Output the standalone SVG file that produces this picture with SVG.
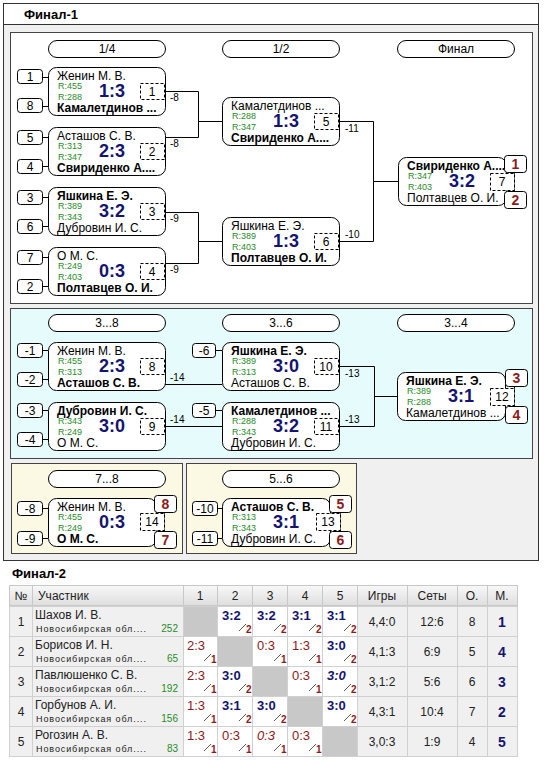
<svg xmlns="http://www.w3.org/2000/svg" width="552" height="760" viewBox="0 0 552 760">
<defs>
<style>
text{font-family:"Liberation Sans",Arial,sans-serif;}
.panel{fill:#f0f0f0;stroke:#333;stroke-width:1}
.wbox{fill:#fff;stroke:#444;stroke-width:1}
.pill{fill:#fff;stroke:#000;stroke-width:1}
.mb{fill:#fff;stroke:#000;stroke-width:1}
.sd{fill:#fff;stroke:#000;stroke-width:1}
.pl{fill:#fff;stroke:#000;stroke-width:1}
.dash{fill:#fff;stroke:#000;stroke-width:1;stroke-dasharray:3,2}
.ln{fill:none;stroke:#000;stroke-width:1}
.t12{font-size:12px;fill:#000}
.b12{font-size:12px;font-weight:bold;fill:#000}
.r{font-size:9px;fill:#2a8a2a}
.sc{font-size:18px;font-weight:bold;fill:#14146e;text-anchor:middle}
.c{text-anchor:middle}
.lab{font-size:10px;fill:#000}
.pn{font-size:14px;font-weight:bold;fill:#8b1a1a;text-anchor:middle}
.hd{font-size:13px;font-weight:bold;fill:#000}
.th{font-size:12px;fill:#222;text-anchor:middle}
.tn{font-size:12px;fill:#222}
.reg{font-size:9px;fill:#222;letter-spacing:0.9px}
.rt{font-size:10px;fill:#2a8a2a;text-anchor:end}
.win{font-size:13px;font-weight:bold;fill:#14146e}
.los{font-size:13px;fill:#8b1a1a}
.sub{font-size:10px;font-weight:bold;fill:#8b1a1a}
.sl{stroke:#333;stroke-width:0.8}
.st{font-size:12px;fill:#222;text-anchor:middle}
.mp{font-size:14px;font-weight:bold;fill:#14146e;text-anchor:middle}
.cell{fill:#f0f0f0;stroke:#d0d0d0}
.wc{fill:#fff;stroke:#d0d0d0}
.gc{fill:#c8c8c8;stroke:#d0d0d0}
</style>
<linearGradient id="hg" x1="0" y1="0" x2="0" y2="1">
<stop offset="0" stop-color="#f8f8f8"/>
<stop offset="1" stop-color="#dedede"/>
</linearGradient>
</defs>
<rect width="552" height="760" fill="#fff"/>

<!-- Final-1 panel -->
<g id="final1-panel">
<rect x="3.5" y="3.5" width="535" height="557" class="panel"/>
<rect x="4" y="4" width="534" height="20.5" fill="#fff"/>
<line x1="3.5" y1="24.5" x2="538.5" y2="24.5" stroke="#333"/>
<text x="24" y="19" class="hd">Финал-1</text>
<rect x="10.5" y="32.5" width="522" height="271" class="wbox"/>
<rect x="10.5" y="308.5" width="522" height="150" fill="#e6fbfb" stroke="#444"/>
<rect x="11.5" y="463.5" width="171" height="90" fill="#fbf9e4" stroke="#444"/>
<rect x="186.5" y="463.5" width="170" height="90" fill="#fbf9e4" stroke="#444"/>
</g>

<!-- Round pills -->
<g id="pills">
<rect x="48.5" y="40.5" width="117" height="17" rx="8.5" class="pill"/><text x="107" y="53" class="t12 c">1/4</text>
<rect x="222.5" y="40.5" width="117" height="17" rx="8.5" class="pill"/><text x="281" y="53" class="t12 c">1/2</text>
<rect x="397.5" y="40.5" width="117" height="17" rx="8.5" class="pill"/><text x="456" y="53" class="t12 c">Финал</text>
<rect x="48.5" y="314.5" width="117" height="17" rx="8.5" class="pill"/><text x="107" y="327" class="t12 c">3...8</text>
<rect x="222.5" y="314.5" width="117" height="17" rx="8.5" class="pill"/><text x="281" y="327" class="t12 c">3...6</text>
<rect x="397.5" y="314.5" width="117" height="17" rx="8.5" class="pill"/><text x="456" y="327" class="t12 c">3...4</text>
<rect x="48.5" y="470.5" width="117" height="17" rx="8.5" class="pill"/><text x="107" y="483" class="t12 c">7...8</text>
<rect x="222.5" y="470.5" width="117" height="17" rx="8.5" class="pill"/><text x="281" y="483" class="t12 c">5...6</text>
</g>

<!-- Connectors -->
<g id="connectors" class="ln">
<polyline points="165,91.5 198.5,91.5 198.5,137.5 165,137.5"/>
<line x1="198.5" y1="121.5" x2="222" y2="121.5"/>
<polyline points="165,212.5 198.5,212.5 198.5,263.5 165,263.5"/>
<line x1="198.5" y1="241.5" x2="222" y2="241.5"/>
<polyline points="339,121.5 373.5,121.5 373.5,241.5 339,241.5"/>
<line x1="373.5" y1="181.5" x2="398" y2="181.5"/>
<line x1="165" y1="384.5" x2="222" y2="384.5"/>
<line x1="165" y1="426.5" x2="222" y2="426.5"/>
<polyline points="339,366.5 374.5,366.5 374.5,426.5 339,426.5"/>
<line x1="374.5" y1="396.5" x2="397" y2="396.5"/>
<!-- seed ticks -->
<line x1="43" y1="77.5" x2="48" y2="77.5"/><line x1="43" y1="106.5" x2="48" y2="106.5"/>
<line x1="43" y1="137.5" x2="48" y2="137.5"/><line x1="43" y1="166.5" x2="48" y2="166.5"/>
<line x1="43" y1="197.5" x2="48" y2="197.5"/><line x1="43" y1="226.5" x2="48" y2="226.5"/>
<line x1="43" y1="257.5" x2="48" y2="257.5"/><line x1="43" y1="286.5" x2="48" y2="286.5"/>
<line x1="43" y1="350.5" x2="48" y2="350.5"/><line x1="43" y1="379.5" x2="48" y2="379.5"/>
<line x1="43" y1="410.5" x2="48" y2="410.5"/><line x1="43" y1="439.5" x2="48" y2="439.5"/>
<line x1="216" y1="350.5" x2="222" y2="350.5"/><line x1="216" y1="410.5" x2="222" y2="410.5"/>
<line x1="43" y1="508.5" x2="48" y2="508.5"/><line x1="43" y1="538.5" x2="48" y2="538.5"/>
<line x1="217" y1="508.5" x2="222" y2="508.5"/><line x1="217" y1="538.5" x2="222" y2="538.5"/>
<!-- place links -->
<line x1="514.5" y1="172" x2="514.5" y2="191"/>
<line x1="514.5" y1="387" x2="514.5" y2="406"/>
<line x1="164.5" y1="512" x2="164.5" y2="531"/>
<line x1="340.5" y1="512" x2="340.5" y2="531"/>
</g>
<g id="connector-labels">
<text x="170" y="101" class="lab">-8</text>
<text x="170" y="147" class="lab">-8</text>
<text x="170" y="222" class="lab">-9</text>
<text x="170" y="273" class="lab">-9</text>
<text x="345" y="132" class="lab">-11</text>
<text x="345" y="238" class="lab">-10</text>
<text x="170" y="381" class="lab">-14</text>
<text x="170" y="423" class="lab">-14</text>
<text x="345" y="377" class="lab">-13</text>
<text x="345" y="423" class="lab">-13</text>
</g>

<!-- Seed boxes -->
<g id="seeds">
<rect x="17.5" y="69.5" width="25" height="14" rx="3" class="sd"/><text x="30" y="81" class="t12 c">1</text>
<rect x="17.5" y="98.5" width="25" height="14" rx="3" class="sd"/><text x="30" y="110" class="t12 c">8</text>
<rect x="17.5" y="130.5" width="25" height="14" rx="3" class="sd"/><text x="30" y="142" class="t12 c">5</text>
<rect x="17.5" y="159.5" width="25" height="14" rx="3" class="sd"/><text x="30" y="171" class="t12 c">4</text>
<rect x="17.5" y="190.5" width="25" height="14" rx="3" class="sd"/><text x="30" y="202" class="t12 c">3</text>
<rect x="17.5" y="219.5" width="25" height="14" rx="3" class="sd"/><text x="30" y="231" class="t12 c">6</text>
<rect x="17.5" y="250.5" width="25" height="14" rx="3" class="sd"/><text x="30" y="262" class="t12 c">7</text>
<rect x="17.5" y="279.5" width="25" height="14" rx="3" class="sd"/><text x="30" y="291" class="t12 c">2</text>
<rect x="17.5" y="343.5" width="25" height="14" rx="3" class="sd"/><text x="30" y="355" class="t12 c">-1</text>
<rect x="17.5" y="372.5" width="25" height="14" rx="3" class="sd"/><text x="30" y="384" class="t12 c">-2</text>
<rect x="17.5" y="403.5" width="25" height="14" rx="3" class="sd"/><text x="30" y="415" class="t12 c">-3</text>
<rect x="17.5" y="432.5" width="25" height="14" rx="3" class="sd"/><text x="30" y="444" class="t12 c">-4</text>
<rect x="192.5" y="343.5" width="23" height="14" rx="3" class="sd"/><text x="204" y="355" class="t12 c">-6</text>
<rect x="192.5" y="403.5" width="23" height="14" rx="3" class="sd"/><text x="204" y="415" class="t12 c">-5</text>
<rect x="17.5" y="501.5" width="25" height="14" rx="3" class="sd"/><text x="30" y="513" class="t12 c">-8</text>
<rect x="17.5" y="531.5" width="25" height="14" rx="3" class="sd"/><text x="30" y="543" class="t12 c">-9</text>
<rect x="192.5" y="501.5" width="25" height="14" rx="3" class="sd"/><text x="205" y="513" class="t12 c">-10</text>
<rect x="192.5" y="531.5" width="25" height="14" rx="3" class="sd"/><text x="205" y="543" class="t12 c">-11</text>
</g>

<!-- Matches -->
<g id="m1">
<rect x="48.5" y="67.5" width="117" height="48" rx="8" class="mb"/>
<text x="57" y="80" class="t12">Женин М. В.</text><text x="58" y="89" class="r">R:455</text>
<text x="112" y="97" class="sc">1:3</text><text x="58" y="100" class="r">R:288</text>
<text x="57" y="112" class="b12">Камалетдинов ...</text>
<rect x="140.5" y="83.5" width="24" height="16" class="dash"/><text x="152" y="96" class="t12 c">1</text>
</g>
<g id="m2">
<rect x="48.5" y="127.5" width="117" height="48" rx="8" class="mb"/>
<text x="57" y="140" class="t12">Асташов С. В.</text><text x="58" y="149" class="r">R:313</text>
<text x="112" y="157" class="sc">2:3</text><text x="58" y="160" class="r">R:347</text>
<text x="57" y="172" class="b12">Свириденко А....</text>
<rect x="140.5" y="143.5" width="24" height="16" class="dash"/><text x="152" y="156" class="t12 c">2</text>
</g>
<g id="m3">
<rect x="48.5" y="187.5" width="117" height="48" rx="8" class="mb"/>
<text x="57" y="200" class="b12">Яшкина Е. Э.</text><text x="58" y="209" class="r">R:389</text>
<text x="112" y="217" class="sc">3:2</text><text x="58" y="220" class="r">R:343</text>
<text x="57" y="232" class="t12">Дубровин И. С.</text>
<rect x="140.5" y="203.5" width="24" height="16" class="dash"/><text x="152" y="216" class="t12 c">3</text>
</g>
<g id="m4">
<rect x="48.5" y="247.5" width="117" height="48" rx="8" class="mb"/>
<text x="57" y="260" class="t12">О М. С.</text><text x="58" y="269" class="r">R:249</text>
<text x="112" y="277" class="sc">0:3</text><text x="58" y="280" class="r">R:403</text>
<text x="57" y="292" class="b12">Полтавцев О. И.</text>
<rect x="140.5" y="263.5" width="24" height="16" class="dash"/><text x="152" y="276" class="t12 c">4</text>
</g>
<g id="m5">
<rect x="222.5" y="97.5" width="117" height="48" rx="8" class="mb"/>
<text x="231" y="110" class="t12">Камалетдинов ...</text><text x="232" y="119" class="r">R:288</text>
<text x="286" y="127" class="sc">1:3</text><text x="232" y="130" class="r">R:347</text>
<text x="231" y="142" class="b12">Свириденко А....</text>
<rect x="314.5" y="113.5" width="24" height="16" class="dash"/><text x="326" y="126" class="t12 c">5</text>
</g>
<g id="m6">
<rect x="222.5" y="217.5" width="117" height="48" rx="8" class="mb"/>
<text x="231" y="230" class="t12">Яшкина Е. Э.</text><text x="232" y="239" class="r">R:389</text>
<text x="286" y="247" class="sc">1:3</text><text x="232" y="250" class="r">R:403</text>
<text x="231" y="262" class="b12">Полтавцев О. И.</text>
<rect x="314.5" y="233.5" width="24" height="16" class="dash"/><text x="326" y="246" class="t12 c">6</text>
</g>
<g id="m7">
<rect x="398.5" y="157.5" width="108" height="48" rx="8" class="mb"/>
<text x="407" y="170" class="b12">Свириденко А....</text><text x="408" y="179" class="r">R:347</text>
<text x="462" y="187" class="sc">3:2</text><text x="408" y="190" class="r">R:403</text>
<text x="407" y="202" class="t12">Полтавцев О. И.</text>
<rect x="490.5" y="173.5" width="24" height="17" class="dash"/><text x="502" y="186" class="t12 c">7</text>
<rect x="504.5" y="155.5" width="22" height="17" rx="3" class="pl"/><text x="515.5" y="169" class="pn">1</text>
<rect x="504.5" y="191.5" width="22" height="17" rx="3" class="pl"/><text x="515.5" y="205" class="pn">2</text>
</g>
<g id="m8">
<rect x="48.5" y="342.5" width="117" height="48" rx="8" class="mb"/>
<text x="57" y="355" class="t12">Женин М. В.</text><text x="58" y="364" class="r">R:455</text>
<text x="112" y="372" class="sc">2:3</text><text x="58" y="375" class="r">R:313</text>
<text x="57" y="387" class="b12">Асташов С. В.</text>
<rect x="140.5" y="358.5" width="24" height="16" class="dash"/><text x="152" y="371" class="t12 c">8</text>
</g>
<g id="m9">
<rect x="48.5" y="402.5" width="117" height="48" rx="8" class="mb"/>
<text x="57" y="415" class="b12">Дубровин И. С.</text><text x="58" y="424" class="r">R:343</text>
<text x="112" y="432" class="sc">3:0</text><text x="58" y="435" class="r">R:249</text>
<text x="57" y="447" class="t12">О М. С.</text>
<rect x="140.5" y="418.5" width="24" height="16" class="dash"/><text x="152" y="431" class="t12 c">9</text>
</g>
<g id="m10">
<rect x="222.5" y="342.5" width="117" height="48" rx="8" class="mb"/>
<text x="231" y="355" class="b12">Яшкина Е. Э.</text><text x="232" y="364" class="r">R:389</text>
<text x="286" y="372" class="sc">3:0</text><text x="232" y="375" class="r">R:313</text>
<text x="231" y="387" class="t12">Асташов С. В.</text>
<rect x="314.5" y="358.5" width="24" height="16" class="dash"/><text x="326" y="371" class="t12 c">10</text>
</g>
<g id="m11">
<rect x="222.5" y="402.5" width="117" height="48" rx="8" class="mb"/>
<text x="231" y="415" class="b12">Камалетдинов ...</text><text x="232" y="424" class="r">R:288</text>
<text x="286" y="432" class="sc">3:2</text><text x="232" y="435" class="r">R:343</text>
<text x="231" y="447" class="t12">Дубровин И. С.</text>
<rect x="314.5" y="418.5" width="24" height="16" class="dash"/><text x="326" y="431" class="t12 c">11</text>
</g>
<g id="m12">
<rect x="397.5" y="372.5" width="108" height="48" rx="8" class="mb"/>
<text x="406" y="385" class="b12">Яшкина Е. Э.</text><text x="407" y="394" class="r">R:389</text>
<text x="461" y="402" class="sc">3:1</text><text x="407" y="405" class="r">R:288</text>
<text x="406" y="417" class="t12">Камалетдинов ...</text>
<rect x="490.5" y="388.5" width="24" height="17" class="dash"/><text x="502" y="401" class="t12 c">12</text>
<rect x="505.5" y="369.5" width="22" height="17" rx="3" class="pl"/><text x="516.5" y="383" class="pn">3</text>
<rect x="505.5" y="406.5" width="22" height="17" rx="3" class="pl"/><text x="516.5" y="420" class="pn">4</text>
</g>
<g id="m14">
<rect x="48.5" y="498.5" width="108" height="48" rx="8" class="mb"/>
<text x="57" y="511" class="t12">Женин М. В.</text><text x="58" y="520" class="r">R:455</text>
<text x="112" y="528" class="sc">0:3</text><text x="58" y="531" class="r">R:249</text>
<text x="57" y="543" class="b12">О М. С.</text>
<rect x="140.5" y="513.5" width="24" height="17" class="dash"/><text x="152" y="526" class="t12 c">14</text>
<rect x="154.5" y="495.5" width="22" height="17" rx="3" class="pl"/><text x="165.5" y="509" class="pn">8</text>
<rect x="154.5" y="531.5" width="22" height="17" rx="3" class="pl"/><text x="165.5" y="545" class="pn">7</text>
</g>
<g id="m13">
<rect x="222.5" y="498.5" width="108" height="48" rx="8" class="mb"/>
<text x="231" y="511" class="b12">Асташов С. В.</text><text x="232" y="520" class="r">R:313</text>
<text x="286" y="528" class="sc">3:1</text><text x="232" y="531" class="r">R:343</text>
<text x="231" y="543" class="t12">Дубровин И. С.</text>
<rect x="316.5" y="513.5" width="24" height="17" class="dash"/><text x="328" y="526" class="t12 c">13</text>
<rect x="329.5" y="495.5" width="22" height="17" rx="3" class="pl"/><text x="340.5" y="509" class="pn">5</text>
<rect x="329.5" y="531.5" width="22" height="17" rx="3" class="pl"/><text x="340.5" y="545" class="pn">6</text>
</g>

<!-- Final-2 table -->
<g id="final2">
<text x="12" y="578" class="hd">Финал-2</text>
<g id="table-header">
<rect x="9.5" y="585.5" width="508" height="20" fill="url(#hg)" stroke="#c8c8c8"/>
<g stroke="#c8c8c8">
<line x1="32.5" y1="586" x2="32.5" y2="605"/><line x1="183.5" y1="586" x2="183.5" y2="605"/>
<line x1="217.5" y1="586" x2="217.5" y2="605"/><line x1="252.5" y1="586" x2="252.5" y2="605"/>
<line x1="287.5" y1="586" x2="287.5" y2="605"/><line x1="322.5" y1="586" x2="322.5" y2="605"/>
<line x1="357.5" y1="586" x2="357.5" y2="605"/><line x1="407.5" y1="586" x2="407.5" y2="605"/>
<line x1="457.5" y1="586" x2="457.5" y2="605"/><line x1="487.5" y1="586" x2="487.5" y2="605"/>
</g>
<text x="21" y="600" class="th">№</text>
<text x="38" y="600" class="tn">Участник</text>
<text x="200" y="600" class="th">1</text><text x="235" y="600" class="th">2</text>
<text x="270" y="600" class="th">3</text><text x="305" y="600" class="th">4</text>
<text x="340" y="600" class="th">5</text><text x="382" y="600" class="th">Игры</text>
<text x="432" y="600" class="th">Сеты</text><text x="472" y="600" class="th">О.</text>
<text x="502" y="600" class="th">М.</text>
</g>

<g id="row1">
<rect x="9.5" y="606.5" width="23" height="30" class="cell"/><rect x="32.5" y="606.5" width="151" height="30" class="cell"/>
<rect x="183.5" y="606.5" width="34" height="30" class="gc"/><rect x="217.5" y="606.5" width="35" height="30" class="wc"/>
<rect x="252.5" y="606.5" width="35" height="30" class="wc"/><rect x="287.5" y="606.5" width="35" height="30" class="wc"/>
<rect x="322.5" y="606.5" width="35" height="30" class="wc"/><rect x="357.5" y="606.5" width="50" height="30" class="cell"/>
<rect x="407.5" y="606.5" width="50" height="30" class="cell"/><rect x="457.5" y="606.5" width="30" height="30" class="cell"/>
<rect x="487.5" y="606.5" width="30" height="30" class="cell"/>
<text x="21" y="626" class="th">1</text>
<text x="35" y="619" class="tn">Шахов И. В.</text>
<text x="36" y="632" class="reg">Новосибирская обл....</text><text x="178" y="632" class="rt">252</text>
<text x="222" y="620" class="win">3:2</text><line x1="239" y1="631" x2="246" y2="624" class="sl"/><text x="246" y="633" class="sub">2</text>
<text x="257" y="620" class="win">3:2</text><line x1="274" y1="631" x2="281" y2="624" class="sl"/><text x="281" y="633" class="sub">2</text>
<text x="292" y="620" class="win">3:1</text><line x1="309" y1="631" x2="316" y2="624" class="sl"/><text x="316" y="633" class="sub">2</text>
<text x="327" y="620" class="win">3:1</text><line x1="344" y1="631" x2="351" y2="624" class="sl"/><text x="351" y="633" class="sub">2</text>
<text x="382" y="626" class="st">4,4:0</text><text x="432" y="626" class="st">12:6</text>
<text x="472" y="626" class="st">8</text><text x="502" y="627" class="mp">1</text>
</g>
<g id="row2">
<rect x="9.5" y="636.5" width="23" height="30" class="cell"/><rect x="32.5" y="636.5" width="151" height="30" class="cell"/>
<rect x="183.5" y="636.5" width="34" height="30" class="wc"/><rect x="217.5" y="636.5" width="35" height="30" class="gc"/>
<rect x="252.5" y="636.5" width="35" height="30" class="wc"/><rect x="287.5" y="636.5" width="35" height="30" class="wc"/>
<rect x="322.5" y="636.5" width="35" height="30" class="wc"/><rect x="357.5" y="636.5" width="50" height="30" class="cell"/>
<rect x="407.5" y="636.5" width="50" height="30" class="cell"/><rect x="457.5" y="636.5" width="30" height="30" class="cell"/>
<rect x="487.5" y="636.5" width="30" height="30" class="cell"/>
<text x="21" y="656" class="th">2</text>
<text x="35" y="649" class="tn">Борисов И. Н.</text>
<text x="36" y="662" class="reg">Новосибирская обл....</text><text x="178" y="662" class="rt">65</text>
<text x="187" y="650" class="los">2:3</text><line x1="204" y1="661" x2="211" y2="654" class="sl"/><text x="211" y="663" class="sub">1</text>
<text x="257" y="650" class="los">0:3</text><line x1="274" y1="661" x2="281" y2="654" class="sl"/><text x="281" y="663" class="sub">1</text>
<text x="292" y="650" class="los">1:3</text><line x1="309" y1="661" x2="316" y2="654" class="sl"/><text x="316" y="663" class="sub">1</text>
<text x="327" y="650" class="win">3:0</text><line x1="344" y1="661" x2="351" y2="654" class="sl"/><text x="351" y="663" class="sub">2</text>
<text x="382" y="656" class="st">4,1:3</text><text x="432" y="656" class="st">6:9</text>
<text x="472" y="656" class="st">5</text><text x="502" y="657" class="mp">4</text>
</g>
<g id="row3">
<rect x="9.5" y="666.5" width="23" height="30" class="cell"/><rect x="32.5" y="666.5" width="151" height="30" class="cell"/>
<rect x="183.5" y="666.5" width="34" height="30" class="wc"/><rect x="217.5" y="666.5" width="35" height="30" class="wc"/>
<rect x="252.5" y="666.5" width="35" height="30" class="gc"/><rect x="287.5" y="666.5" width="35" height="30" class="wc"/>
<rect x="322.5" y="666.5" width="35" height="30" class="wc"/><rect x="357.5" y="666.5" width="50" height="30" class="cell"/>
<rect x="407.5" y="666.5" width="50" height="30" class="cell"/><rect x="457.5" y="666.5" width="30" height="30" class="cell"/>
<rect x="487.5" y="666.5" width="30" height="30" class="cell"/>
<text x="21" y="686" class="th">3</text>
<text x="35" y="679" class="tn">Павлюшенко С. В.</text>
<text x="36" y="692" class="reg">Новосибирская обл....</text><text x="178" y="692" class="rt">192</text>
<text x="187" y="680" class="los">2:3</text><line x1="204" y1="691" x2="211" y2="684" class="sl"/><text x="211" y="693" class="sub">1</text>
<text x="222" y="680" class="win">3:0</text><line x1="239" y1="691" x2="246" y2="684" class="sl"/><text x="246" y="693" class="sub">2</text>
<text x="292" y="680" class="los">0:3</text><line x1="309" y1="691" x2="316" y2="684" class="sl"/><text x="316" y="693" class="sub">1</text>
<text x="327" y="680" class="win" font-weight="normal" font-style="italic">3:0</text><line x1="344" y1="691" x2="351" y2="684" class="sl"/><text x="351" y="693" class="sub">2</text>
<text x="382" y="686" class="st">3,1:2</text><text x="432" y="686" class="st">5:6</text>
<text x="472" y="686" class="st">6</text><text x="502" y="687" class="mp">3</text>
</g>
<g id="row4">
<rect x="9.5" y="696.5" width="23" height="30" class="cell"/><rect x="32.5" y="696.5" width="151" height="30" class="cell"/>
<rect x="183.5" y="696.5" width="34" height="30" class="wc"/><rect x="217.5" y="696.5" width="35" height="30" class="wc"/>
<rect x="252.5" y="696.5" width="35" height="30" class="wc"/><rect x="287.5" y="696.5" width="35" height="30" class="gc"/>
<rect x="322.5" y="696.5" width="35" height="30" class="wc"/><rect x="357.5" y="696.5" width="50" height="30" class="cell"/>
<rect x="407.5" y="696.5" width="50" height="30" class="cell"/><rect x="457.5" y="696.5" width="30" height="30" class="cell"/>
<rect x="487.5" y="696.5" width="30" height="30" class="cell"/>
<text x="21" y="716" class="th">4</text>
<text x="35" y="709" class="tn">Горбунов А. И.</text>
<text x="36" y="722" class="reg">Новосибирская обл....</text><text x="178" y="722" class="rt">156</text>
<text x="187" y="710" class="los">1:3</text><line x1="204" y1="721" x2="211" y2="714" class="sl"/><text x="211" y="723" class="sub">1</text>
<text x="222" y="710" class="win">3:1</text><line x1="239" y1="721" x2="246" y2="714" class="sl"/><text x="246" y="723" class="sub">2</text>
<text x="257" y="710" class="win">3:0</text><line x1="274" y1="721" x2="281" y2="714" class="sl"/><text x="281" y="723" class="sub">2</text>
<text x="327" y="710" class="win">3:0</text><line x1="344" y1="721" x2="351" y2="714" class="sl"/><text x="351" y="723" class="sub">2</text>
<text x="382" y="716" class="st">4,3:1</text><text x="432" y="716" class="st">10:4</text>
<text x="472" y="716" class="st">7</text><text x="502" y="717" class="mp">2</text>
</g>
<g id="row5">
<rect x="9.5" y="726.5" width="23" height="30" class="cell"/><rect x="32.5" y="726.5" width="151" height="30" class="cell"/>
<rect x="183.5" y="726.5" width="34" height="30" class="wc"/><rect x="217.5" y="726.5" width="35" height="30" class="wc"/>
<rect x="252.5" y="726.5" width="35" height="30" class="wc"/><rect x="287.5" y="726.5" width="35" height="30" class="wc"/>
<rect x="322.5" y="726.5" width="35" height="30" class="gc"/><rect x="357.5" y="726.5" width="50" height="30" class="cell"/>
<rect x="407.5" y="726.5" width="50" height="30" class="cell"/><rect x="457.5" y="726.5" width="30" height="30" class="cell"/>
<rect x="487.5" y="726.5" width="30" height="30" class="cell"/>
<text x="21" y="746" class="th">5</text>
<text x="35" y="739" class="tn">Рогозин А. В.</text>
<text x="36" y="752" class="reg">Новосибирская обл....</text><text x="178" y="752" class="rt">83</text>
<text x="187" y="740" class="los">1:3</text><line x1="204" y1="751" x2="211" y2="744" class="sl"/><text x="211" y="753" class="sub">1</text>
<text x="222" y="740" class="los">0:3</text><line x1="239" y1="751" x2="246" y2="744" class="sl"/><text x="246" y="753" class="sub">1</text>
<text x="257" y="740" class="los" font-style="italic">0:3</text><line x1="274" y1="751" x2="281" y2="744" class="sl"/><text x="281" y="753" class="sub">1</text>
<text x="292" y="740" class="los">0:3</text><line x1="309" y1="751" x2="316" y2="744" class="sl"/><text x="316" y="753" class="sub">1</text>
<text x="382" y="746" class="st">3,0:3</text><text x="432" y="746" class="st">1:9</text>
<text x="472" y="746" class="st">4</text><text x="502" y="747" class="mp">5</text>
</g>
</g>
</svg>
